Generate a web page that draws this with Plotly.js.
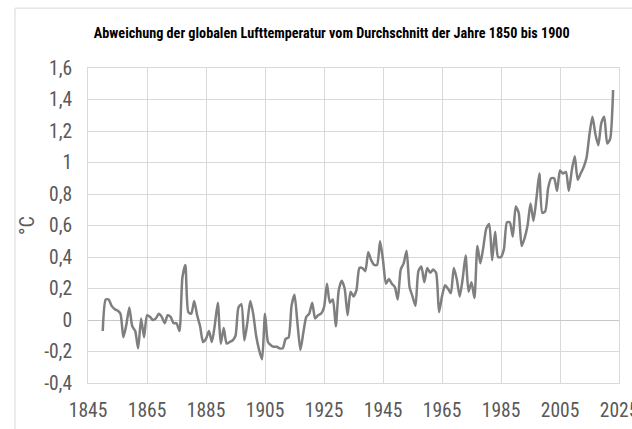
<!DOCTYPE html>
<html>
<head>
<meta charset="utf-8">
<script src="https://cdn.plot.ly/plotly-3.0.1.min.js"></script>
<style>
html,body{margin:0;padding:0;background:#fff;}
#chart{width:632px;height:429px;}
#chart text{font-stretch:75%;}
</style>
</head>
<body>
<div id="chart"></div>
<script>
// Years 1850..2023
const startYear = 1850;
const anomaly = [
  -0.07, 0.13, 0.13, 0.09, 0.07, 0.06, 0.04, -0.11, -0.03, 0.08,   // 1850-1859
  -0.04, -0.07, -0.18, 0.01, -0.11, 0.03, 0.02, 0.00, 0.01, 0.04,  // 1860-1869
  0.02, -0.02, 0.03, 0.02, -0.02, -0.02, -0.07, 0.27, 0.35, 0.05,  // 1870-1879
  0.04, 0.12, 0.03, -0.04, -0.14, -0.12, -0.07, -0.14, -0.03, 0.11, // 1880-1889
  -0.15, -0.05, -0.15, -0.14, -0.13, -0.10, 0.08, 0.10, -0.13, -0.02, // 1890-1899
  0.12, 0.04, -0.10, -0.19, -0.25, 0.04, -0.14, -0.16, -0.17, -0.17, // 1900-1909
  -0.18, -0.18, -0.12, -0.11, 0.09, 0.16, -0.02, -0.19, -0.08, 0.02, // 1910-1919
  0.04, 0.11, 0.01, 0.03, 0.04, 0.08, 0.23, 0.11, 0.13, -0.04,     // 1920-1929
  0.19, 0.25, 0.20, 0.03, 0.18, 0.15, 0.19, 0.33, 0.33, 0.31,      // 1930-1939
  0.43, 0.38, 0.35, 0.35, 0.50, 0.38, 0.23, 0.26, 0.23, 0.21,      // 1940-1949
  0.13, 0.32, 0.36, 0.44, 0.21, 0.15, 0.09, 0.31, 0.34, 0.24,      // 1950-1959
  0.33, 0.30, 0.32, 0.30, 0.05, 0.15, 0.22, 0.20, 0.17, 0.33,      // 1960-1969
  0.26, 0.15, 0.26, 0.41, 0.18, 0.24, 0.14, 0.47, 0.36, 0.46,      // 1970-1979
  0.58, 0.61, 0.38, 0.56, 0.40, 0.40, 0.45, 0.62, 0.62, 0.53,      // 1980-1989
  0.72, 0.68, 0.47, 0.52, 0.60, 0.74, 0.63, 0.77, 0.93, 0.68,      // 1990-1999
  0.69, 0.84, 0.90, 0.90, 0.82, 0.95, 0.93, 0.94, 0.82, 0.95,      // 2000-2009
  1.04, 0.89, 0.93, 0.97, 1.03, 1.18, 1.29, 1.18, 1.11, 1.25,      // 2010-2019
  1.29, 1.12, 1.15, 1.46                                            // 2020-2023
];
const years = anomaly.map((_, i) => startYear + i);

const xTickVals = [1845, 1865, 1885, 1905, 1925, 1945, 1965, 1985, 2005, 2025];
const yTickVals = [-0.4, -0.2, 0, 0.2, 0.4, 0.6, 0.8, 1, 1.2, 1.4, 1.6];
const yTickText = ["-0,4", "-0,2", "0", "0,2", "0,4", "0,6", "0,8", "1", "1,2", "1,4", "1,6"];

const titleText = "Abweichung der globalen Lufttemperatur vom Durchschnitt der Jahre 1850 bis 1900";
const yTitle = "°C";

const narrow = 'Roboto, "DejaVu Sans Condensed", sans-serif';
const grid = '#d9d9d9';

const trace = {
  x: years, y: anomaly, type: 'scatter', mode: 'lines',
  line: {color: '#7f7f7f', width: 2.5, shape: 'spline', smoothing: 0.6},
  hoverinfo: 'x+y'
};

const layout = {
  width: 632, height: 429,
  margin: {l: 88, r: 13, t: 68, b: 46},
  paper_bgcolor: '#fff', plot_bgcolor: '#fff',
  separators: ',.',
  showlegend: false,
  title: {text: titleText, x: 0.525, xanchor: 'center', y: 0.922, yanchor: 'middle',
    font: {family: narrow, size: 14.2, color: '#000', weight: 'bold'}},
  xaxis: {
    range: [1845, 2025], tickvals: xTickVals, showgrid: true, gridcolor: grid, gridwidth: 1,
    zeroline: false, showline: true, linecolor: grid, mirror: true, ticks: '',
    ticklabelstandoff: 10, ticklabeloverflow: 'allow',
    tickfont: {family: narrow, size: 19.5, color: '#595959'}
  },
  yaxis: {
    range: [-0.4, 1.6], tickvals: yTickVals, ticktext: yTickText, showgrid: true, gridcolor: grid,
    gridwidth: 1, zeroline: true, zerolinecolor: '#c8c8c8', zerolinewidth: 1,
    showline: true, linecolor: grid, mirror: true, ticks: '', ticklabelstandoff: 11,
    ticklabeloverflow: 'allow',
    tickfont: {family: narrow, size: 19.5, color: '#595959'},
    title: {text: yTitle, font: {family: narrow, size: 20, color: '#595959'}, standoff: 0}
  },
  shapes: [
    {type: 'line', xref: 'paper', yref: 'paper', x0: -0.1375, x1: 1.1, y0: 1.19, y1: 1.19,
      line: {color: '#d9d9d9', width: 1}},
    {type: 'line', xref: 'paper', yref: 'paper', x0: -0.1375, x1: -0.1375, y0: 1.19, y1: -0.3,
      line: {color: '#d9d9d9', width: 1}}
  ]
};

Plotly.newPlot('chart', [trace], layout, {staticPlot: true, displayModeBar: false});
</script>
</body>
</html>
